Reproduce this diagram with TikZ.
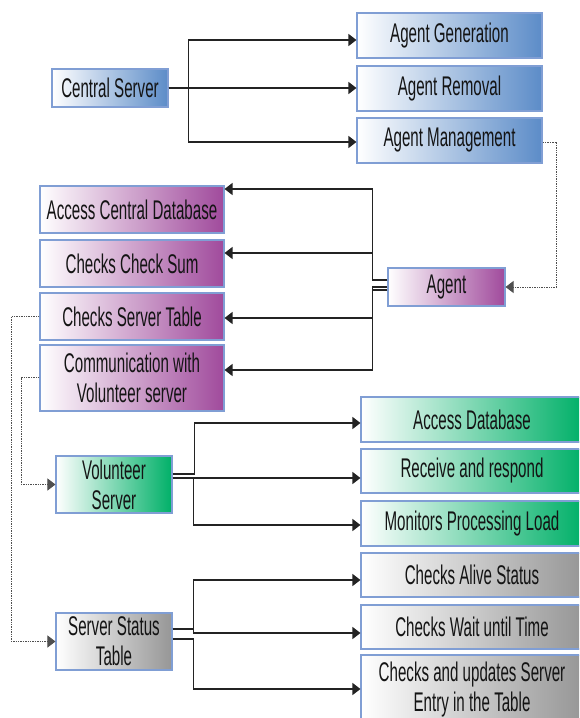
\documentclass[tikz,border=0pt]{standalone}
\usepackage{fontspec}
\setmainfont{Liberation Sans}[FakeStretch=0.56]
\usetikzlibrary{arrows.meta}

\definecolor{edge}{RGB}{128,158,212}
\definecolor{wire}{RGB}{35,35,35}
\definecolor{blueend}{RGB}{92,140,200}
\definecolor{purpleend}{RGB}{160,74,156}
\definecolor{greenend}{RGB}{0,176,104}
\definecolor{grayend}{RGB}{150,150,150}
\definecolor{ink}{RGB}{20,20,20}

\tikzset{
  box/.style={draw=edge, line width=1.1pt, inner sep=0pt, align=center,
    text=ink, font=\fontsize{27}{30}\selectfont, left color=white},
  bluebox/.style={box, right color=blueend},
  purplebox/.style={box, right color=purpleend},
  greenbox/.style={box, right color=greenend},
  graybox/.style={box, right color=grayend},
  link/.style={draw=wire, line width=1.3pt,
    -{Triangle[length=8pt,width=12pt]}},
  hint/.style={draw=wire!80, line width=0.9pt, dash pattern=on 1.4pt off 1pt,
    -{Triangle[length=8pt,width=12pt]}}
}

\begin{document}
\begin{tikzpicture}[x=1pt,y=-1pt]
\clip (0,0) rectangle (579,718);
\fill[white] (0,0) rectangle (579,718);

% central server and its tasks
\node[bluebox, minimum width=116pt, minimum height=38pt] (cs) at (110,88) {Central Server};
\node[bluebox, minimum width=185pt, minimum height=45pt] (ag) at (449.5,35.5) {Agent Generation};
\node[bluebox, minimum width=185pt, minimum height=45pt] (ar) at (449.5,88.5) {Agent Removal};
\node[bluebox, minimum width=185pt, minimum height=45pt] (am) at (449.5,140.5) {Agent Management};

% agent and its duties
\node[purplebox, minimum width=117pt, minimum height=38pt] (agent) at (446.5,287) {Agent};
\node[purplebox, minimum width=184pt, minimum height=47pt] (acd) at (132,209.5) {Access Central Database};
\node[purplebox, minimum width=184pt, minimum height=47pt] (ccs) at (132,263.5) {Checks Check Sum};
\node[purplebox, minimum width=184pt, minimum height=47pt] (cst) at (132,316.5) {Checks Server Table};
\node[purplebox, minimum width=184pt, minimum height=66pt] (cvs) at (132,378) {Communication with\\Volunteer server};

% volunteer server
\node[greenbox, minimum width=116pt, minimum height=57pt] (vs) at (114,484.5) {Volunteer\\Server};
\node[greenbox, minimum width=222pt, minimum height=45pt] (adb) at (472,419.5) {Access Database};
\node[greenbox, minimum width=222pt, minimum height=44pt] (rr) at (472,471) {Receive and respond};
\node[greenbox, minimum width=222pt, minimum height=45pt] (mpl) at (472,523.5) {Monitors Processing Load};

% server status table
\node[graybox, minimum width=116pt, minimum height=57pt] (sst) at (114,641.5) {Server Status\\Table};
\node[graybox, minimum width=222pt, minimum height=44pt] (cas) at (472,575) {Checks Alive Status};
\node[graybox, minimum width=222pt, minimum height=44pt] (cwt) at (472,627) {Checks Wait until Time};
\node[graybox, minimum width=222pt, minimum height=70pt] (cus) at (472,690) {Checks and updates Server\\Entry in the Table};

% central server connectors
\draw[link] (cs.east) -- ++(20,0) |- (ag.west |- 0,40);
\draw[link] (cs.east) -- (ar.west |- 0,88);
\draw[link] (cs.east) -- ++(20,0) |- (am.west |- 0,142);

% agent connectors
\draw[link] (agent.west |- 0,280) -- ++(-15,0) |- (acd.east |- 0,189);
\draw[link] (agent.west |- 0,280) -- ++(-15,0) |- (ccs.east |- 0,253);
\draw[link] (agent.west |- 0,287) -- ++(-15,0) |- (cst.east |- 0,318);
\draw[link] (agent.west |- 0,290) -- ++(-15,0) |- (cvs.east |- 0,370);

% volunteer server connectors
\draw[link] (vs.east |- 0,474) -- ++(22,0) |- (adb.west |- 0,423);
\draw[link] (vs.east |- 0,478) -- (rr.west |- 0,478);
\draw[link] (vs.east |- 0,478) -- ++(21,0) |- (mpl.west |- 0,525);

% server status table connectors
\draw[link] (sst.east |- 0,629) -- ++(21,0) |- (cas.west |- 0,580);
\draw[link] (sst.east |- 0,629) -- ++(21,0) |- (cwt.west |- 0,633);
\draw[link] (sst.east |- 0,639) -- ++(21,0) |- (cus.west |- 0,689);

% dotted hand-over links
\draw[hint] (am.east |- 0,142) -- ++(14,0) |- (agent.east);
\draw[hint] (cst.west |- 0,316) -- ++(-28,0) |- (sst.west);
\draw[hint] (cvs.west |- 0,377) -- ++(-18,0) |- (vs.west);
\end{tikzpicture}
\end{document}
